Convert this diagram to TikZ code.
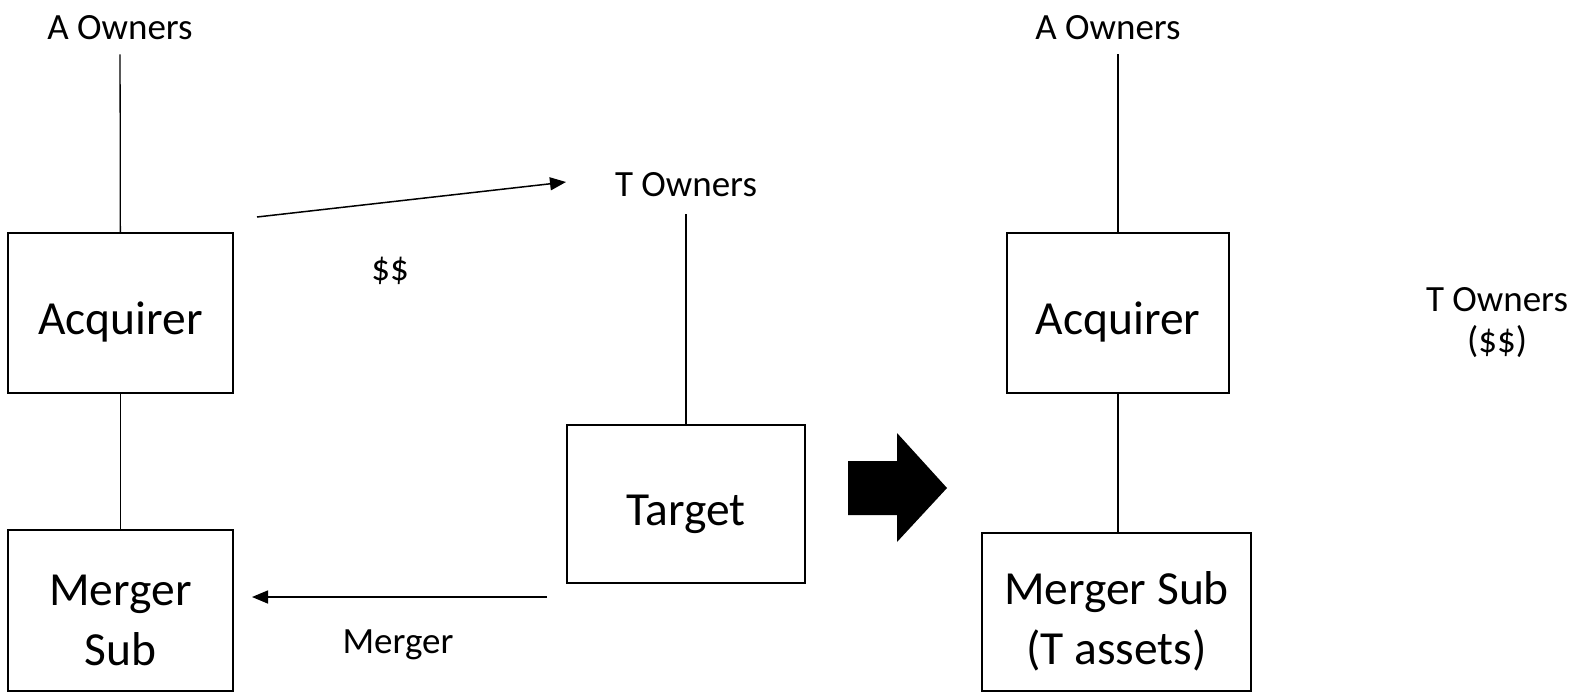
\documentclass[tikz,border=0pt]{standalone}
\usepackage{fontspec}
\setmainfont{Carlito}
\usetikzlibrary{arrows.meta}
\newcommand{\boxstrut}{\rule{0pt}{51pt}}% pushes box text a bit lower
\tikzset{
  box/.style={draw,line width=1.5pt,minimum width=225pt,minimum height=160pt,inner sep=0pt,align=center,font=\fontsize{47.5}{60}\selectfont},
  lbl/.style={font=\fontsize{37}{41}\selectfont,inner sep=0pt,align=center},
  tie/.style={line width=1.3pt},
  flow/.style={line width=1.5pt,-{Triangle[length=16pt,width=13pt]}},
}

\begin{document}
\begin{tikzpicture}[x=1pt,y=-1pt]
  \useasboundingbox (0,0) rectangle (1575,694);

  % before the merger
  \node[lbl] (aownL) at (120,28) {A Owners};
  \node[box] (acqL) at (120.5,313) {\boxstrut Acquirer};
  \node[box,minimum height=161pt] (subL) at (120.5,610.5) {\boxstrut Merger\\Sub};
  \node[lbl] (town) at (686,185) {T Owners};
  \node[box,minimum width=238pt,minimum height=158pt] (tgt) at (686,504) {\boxstrut Target};
  \node[lbl] (cash) at (390,271) {\$\$};
  \node[lbl] (mrg) at (398,645) {Merger};
  \draw[tie,shorten <=14pt] (aownL) -- (acqL);
  \draw[tie] (acqL) -- (subL);
  \draw[tie,shorten <=17pt] (town) -- (tgt);
  \coordinate (payA) at (257,217);
  \coordinate (payB) at (566,182);
  \draw[flow] (payA) -- (payB);
  \coordinate (mrgA) at (547,597);
  \coordinate (mrgB) at (252,597);
  \draw[flow] (mrgA) -- (mrgB);

  % block arrow
  \fill (848,461) -- (897,461) -- (897,433) -- (947,488) -- (897,542)
    -- (897,515) -- (848,515) -- cycle;

  % after the merger
  \node[lbl] (aownR) at (1108,28) {A Owners};
  \node[box,minimum width=222pt] (acqR) at (1118,313) {\boxstrut Acquirer};
  \node[box,minimum width=269pt,minimum height=158pt] (subR) at (1116.5,612) {\boxstrut Merger Sub\\(T assets)};
  \node[lbl] (townR) at (1497,323) {T Owners\\(\$\$)};
  \draw[tie,shorten <=14pt] (aownR.south -| acqR.north) -- (acqR);
  \draw[tie] (acqR) -- (acqR |- subR.north);
\end{tikzpicture}
\end{document}
